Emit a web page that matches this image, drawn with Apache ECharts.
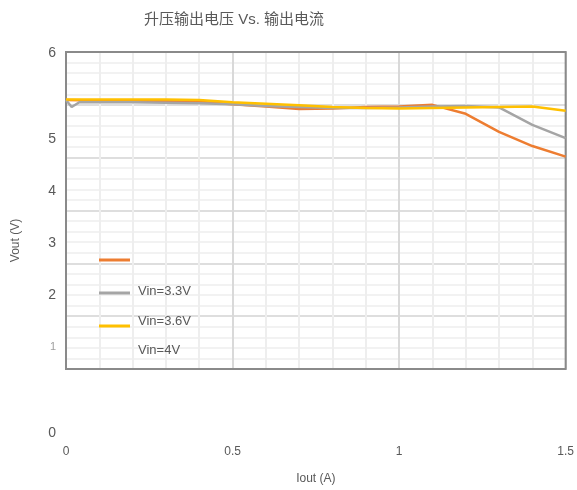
<!DOCTYPE html>
<html><head><meta charset="utf-8">
<script src="https://cdn.jsdelivr.net/npm/echarts@6/dist/echarts.min.js"></script>
<style>html,body{margin:0;padding:0;background:#fff}#c{width:577px;height:490px}</style>
</head><body><div id="c"></div>
<script>
const FONT = "'Liberation Sans Narrow','Liberation Sans','Noto Sans CJK SC',sans-serif";
const titleText = '升压输出电压 Vs. 输出电流';
const seriesNames = ['Vin=3.3V', 'Vin=3.6V', 'Vin=4V'];
const seriesColors = ['#ED7D31', '#A5A5A5', '#FFC000'];
// Iout (A)
const ioutOrange = [0, 0.1, 0.2, 0.3, 0.4, 0.5, 0.6, 0.7, 0.8, 0.9, 1.0, 1.1, 1.2, 1.3, 1.4, 1.5];
const voutOrange = [5.09, 5.08, 5.08, 5.07, 5.06, 5.01, 4.97, 4.92, 4.93, 4.96, 4.97, 5.0, 4.83, 4.49, 4.22, 4.02];
const ioutGray = [0, 0.017, 0.04, 0.1, 0.2, 0.3, 0.4, 0.5, 0.6, 0.7, 0.8, 0.9, 1.0, 1.1, 1.2, 1.3, 1.4, 1.5];
const voutGray = [5.09, 4.96, 5.05, 5.05, 5.05, 5.04, 5.03, 5.01, 4.98, 4.96, 4.94, 4.94, 4.95, 4.97, 4.98, 4.95, 4.62, 4.37];
const ioutYellow = [0, 0.1, 0.2, 0.3, 0.4, 0.5, 0.6, 0.7, 0.8, 0.9, 1.0, 1.1, 1.2, 1.3, 1.4, 1.5];
const voutYellow = [5.1, 5.1, 5.1, 5.1, 5.09, 5.05, 5.02, 4.99, 4.96, 4.94, 4.93, 4.94, 4.95, 4.96, 4.97, 4.89];
// displayed y tick labels (as rendered, bottom to top)
const yTickLabels = ['0','','','','','1','','','2','','','3','','','4','','','5','','','','','6'];
const xTitle = 'Iout (A)';
const yTitle = 'Vout (V)';

const pairs = (xs, ys) => xs.map((x, i) => [x, ys[i]]);
const data = [pairs(ioutOrange, voutOrange), pairs(ioutGray, voutGray), pairs(ioutYellow, voutYellow)];

const chart = echarts.init(document.getElementById('c'), null, {renderer: 'canvas'});
chart.setOption({
  animation: false,
  title: {text: titleText, left: 139, top: 7, textStyle: {fontFamily: FONT, fontSize: 15, fontWeight: 'normal', color: '#595959'}},
  grid: [
    {left: 66, right: 9, top: 52, bottom: 121, show: true, borderColor: '#8a8a8a', borderWidth: 2, z: 3},
    {left: 66, right: 9, top: 53, bottom: 57, show: false}
  ],
  xAxis: [
    {type: 'value', gridIndex: 0, min: 0, max: 1.5, interval: 0.5,
     name: xTitle, nameLocation: 'middle', nameGap: 104,
     nameTextStyle: {fontFamily: FONT, fontSize: 12, color: '#595959'},
     axisLine: {show: false}, axisTick: {show: false},
     axisLabel: {margin: 77, fontFamily: FONT, fontSize: 12, color: '#595959', showMinLabel: true, showMaxLabel: true},
     splitLine: {show: true, lineStyle: {color: '#d9d9d9', width: 2}},
     minorTick: {show: false, splitNumber: 5},
     minorSplitLine: {show: true, lineStyle: {color: '#eeeeee', width: 2}}},
    {type: 'value', gridIndex: 1, show: false, min: 0, max: 1}
  ],
  yAxis: [
    {type: 'value', gridIndex: 0, min: 0, max: 6, interval: 1,
     axisLine: {show: false}, axisTick: {show: false}, axisLabel: {show: false},
     name: yTitle, nameLocation: 'middle', nameGap: 44, nameRotate: 90,
     nameTextStyle: {fontFamily: FONT, fontSize: 12, color: '#595959', padding: [0,0,0,-60]},
     splitLine: {show: true, lineStyle: {color: '#dedede', width: 2}},
     minorTick: {show: false, splitNumber: 5},
     minorSplitLine: {show: true, lineStyle: {color: '#eeeeee', width: 1.5}}},
    {type: 'category', gridIndex: 1, data: yTickLabels, boundaryGap: false,
     axisLine: {show: false}, axisTick: {show: false}, splitLine: {show: false},
     axisLabel: {interval: 0, margin: 10, fontFamily: FONT, fontSize: 14, color: '#595959',
       formatter: v => v === '1' ? '{s|1}' : v,
       rich: {s: {fontFamily: FONT, fontSize: 11, color: '#a0a0a0'}}}}
  ],
  legend: {
    orient: 'vertical', left: 94, top: 253.5, itemWidth: 31, itemHeight: 3, itemGap: 30,
    icon: 'rect', data: seriesNames, formatter: () => '', selectedMode: false,
    textStyle: {fontSize: 13}, z: 20
  },
  graphic: seriesNames.map((n, i) => ({
    type: 'text', left: 138, top: [285, 315, 344][i], z: 100,
    style: {text: n, font: '13px ' + FONT, fill: '#595959'}
  })),
  series: seriesNames.map((n, i) => ({
    name: n, type: 'line', xAxisIndex: 0, yAxisIndex: 0, data: data[i],
    showSymbol: false, symbol: 'none', z: 4 + i,
    lineStyle: {color: seriesColors[i], width: 2.5},
    itemStyle: {color: seriesColors[i]}
  }))
});
</script></body></html>
